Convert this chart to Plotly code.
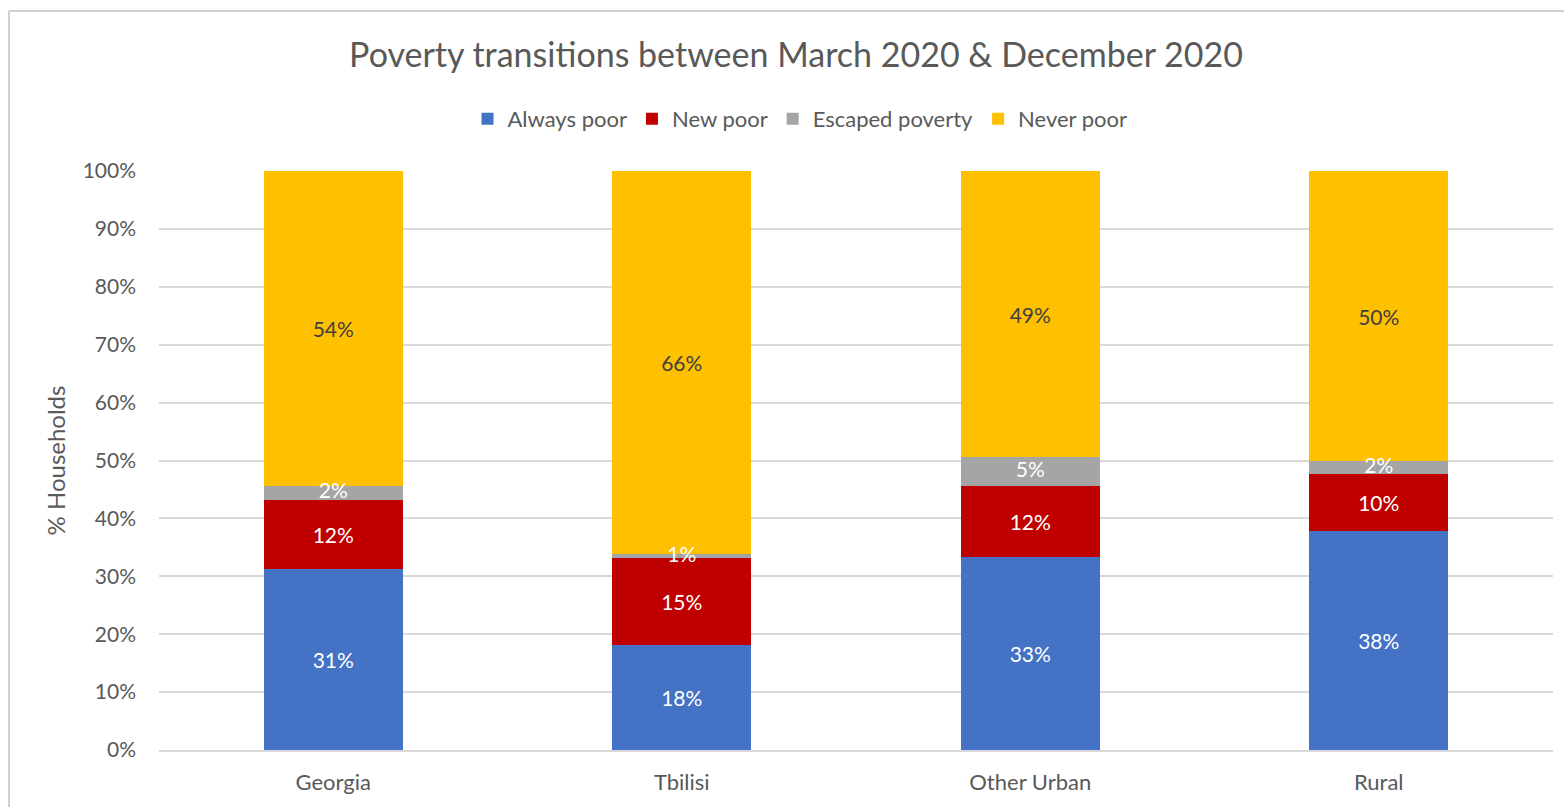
import plotly.graph_objects as go

# Share of households in each poverty-transition group (%)
regions = ["Georgia", "Tbilisi", "Other Urban", "Rural"]
always_poor = [31.3, 18.1, 33.3, 37.9]
new_poor = [11.9, 15.0, 12.3, 9.8]
escaped_poverty = [2.4, 0.7, 5.0, 2.2]
never_poor = [54.4, 66.2, 49.4, 50.1]

series = [
    ("Always poor", always_poor, "#4472C4", "#FFFFFF"),
    ("New poor", new_poor, "#C00000", "#FFFFFF"),
    ("Escaped poverty", escaped_poverty, "#A5A5A5", "#FFFFFF"),
    ("Never poor", never_poor, "#FFC000", "#404040"),
]

FONT = "Lato, 'Open Sans', sans-serif"
W, H = 1564, 807
L, R, T, B = 159, 11, 171, 57
LABEL_SIZE = 21

fig = go.Figure()
for name, vals, color, tcolor in series:
    # Thin grey segments get their labels from a text layer drawn on top
    thin = name == "Escaped poverty"
    fig.add_trace(go.Bar(
        name=name,
        x=regions,
        y=vals,
        marker=dict(color=color, line=dict(width=0)),
        texttemplate=None if thin else "%{y:.0f}%",
        textposition="none" if thin else "inside",
        insidetextanchor="middle",
        constraintext="none",
        insidetextfont=dict(color=tcolor, size=LABEL_SIZE, family=FONT),
        hovertemplate="%{x}: %{y:.1f}%<extra>" + name + "</extra>",
    ))

# Labels for the escaped-poverty segments, centred on each segment
esc_mid = [a + n + e / 2 for a, n, e in zip(always_poor, new_poor, escaped_poverty)]
fig.add_trace(go.Scatter(
    x=regions,
    y=esc_mid,
    mode="text",
    text=[f"{e:.0f}%" for e in escaped_poverty],
    textposition="middle center",
    textfont=dict(color="#FFFFFF", size=LABEL_SIZE, family=FONT),
    showlegend=False,
    hoverinfo="skip",
    cliponaxis=False,
))

# Outer frame of the chart area (top and left edges)
px0 = (9 - L) / (W - L - R)
py_top = 1 + (T - 11) / (H - T - B)
fig.add_shape(type="line", xref="paper", yref="paper",
              x0=px0, x1=1.2, y0=py_top, y1=py_top,
              line=dict(color="#D0D0D0", width=2))
fig.add_shape(type="line", xref="paper", yref="paper",
              x0=px0, x1=px0, y0=py_top, y1=-0.2,
              line=dict(color="#D0D0D0", width=2))

fig.update_layout(
    width=W, height=H,
    margin=dict(l=L, r=R, t=T, b=B),
    barmode="stack",
    bargap=0.6,
    paper_bgcolor="white",
    plot_bgcolor="white",
    font=dict(family=FONT, color="#595959", size=18),
    title=dict(
        text="Poverty transitions between March 2020 & December 2020",
        x=796 / W, xanchor="center", xref="container",
        y=1 - 55 / H, yanchor="middle", yref="container",
        font=dict(size=34, color="#595959", family=FONT),
    ),
    legend=dict(
        orientation="h",
        x=800 / W, xref="container", xanchor="center",
        y=1 - 119 / H, yref="container", yanchor="middle",
        font=dict(size=22, color="#595959", family=FONT),
        itemwidth=30,
        traceorder="normal",
    ),
    xaxis=dict(
        showgrid=False,
        showline=True, linecolor="#D9D9D9", linewidth=2,
        ticks="", tickfont=dict(size=22, color="#595959"),
        ticklabelstandoff=12,
    ),
    yaxis=dict(
        range=[0, 100], dtick=10, ticksuffix="%",
        showgrid=True, gridcolor="#D9D9D9", gridwidth=2,
        zeroline=False, showline=False,
        tickfont=dict(size=21, color="#595959"),
        ticklabelstandoff=22,
        title=dict(text="% Households", font=dict(size=24, color="#595959"), standoff=10),
    ),
)

fig.write_html("out.html")
